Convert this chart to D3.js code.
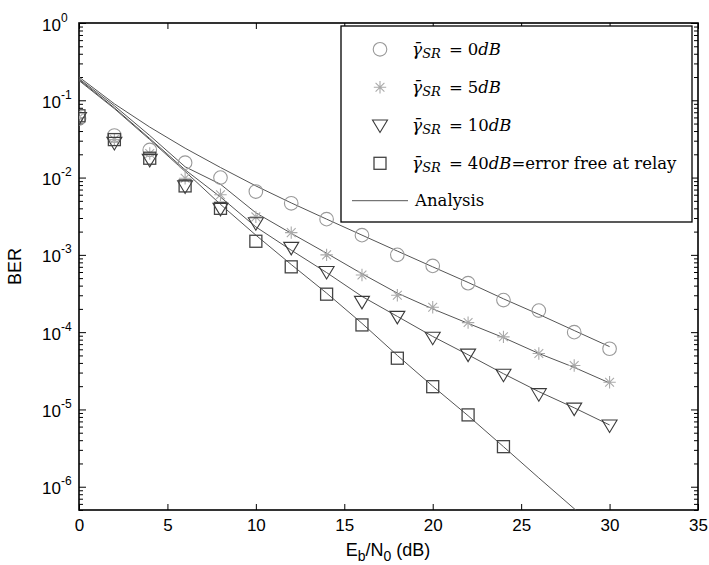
<!DOCTYPE html>
<html><head><meta charset="utf-8">
<script src="https://cdn.jsdelivr.net/npm/d3@7"></script>
<style>body{margin:0;background:#fff}svg{display:block}</style>
</head><body>
<svg id="c" width="709" height="565"></svg>
<script>
// ---- data ----
const snrSim = [0,2,4,6,8,10,12,14,16,18,20,22,24,26,28,30];
const ber0dB  = [0.058,0.035,0.0228,0.0156,0.0100,0.0066,0.00465,0.0029,0.0018,0.00100,0.00072,0.00043,0.00026,0.00019,0.000100,0.000061];
const ber5dB  = [0.060,0.031,0.0205,0.0098,0.0060,0.0031,0.00194,0.00100,0.00055,0.00030,0.00021,0.000133,0.000087,0.000053,0.000037,0.0000225];
const ber10dB = [0.060,0.0285,0.0172,0.0078,0.0040,0.0026,0.00125,0.00061,0.00025,0.000160,0.000086,0.000052,0.0000285,0.000016,0.0000104,0.0000063];
const ber40dB = [0.063,0.031,0.0178,0.0078,0.0040,0.00150,0.00070,0.00031,0.000124,0.000046,0.0000197,0.0000085,0.0000033];
const snrAna = [0,2,4,6,8,10,12,14,16,18,20,22,24,26,28,30];
const ana0dB  = [0.20,0.090,0.045,0.024,0.0135,0.0078,0.0047,0.0029,0.0018,0.00112,0.00070,0.00044,0.00027,0.00017,0.000105,0.000065];
const ana5dB  = [0.19,0.085,0.035,0.0138,0.0082,0.0035,0.0019,0.00105,0.00057,0.00032,0.00020,0.00013,0.000085,0.000053,0.000035,0.000022];
const ana10dB = [0.185,0.080,0.032,0.0126,0.0056,0.0023,0.00115,0.00059,0.00029,0.00016,0.000088,0.000051,0.000029,0.000017,0.0000105,0.0000063];
const ana40dB = [0.18,0.078,0.031,0.012,0.0045,0.0018,0.00075,0.00032,0.00013,0.000050,0.000020,0.0000083,0.0000033,0.0000013,0.00000052,0.00000021];
const xTicks = [0,5,10,15,20,25,30,35];
const yTicks = [1,1e-1,1e-2,1e-3,1e-4,1e-5,1e-6];
const yExps  = ["0","-1","-2","-3","-4","-5","-6"];
const legendLabels = ["0","5","10","40"];

// ---- layout ----
const L=79,R=698,T=23,B=510;
const x = d3.scaleLinear().domain([0,35]).range([L,R]);
const y = d3.scaleLog().domain([5e-7,1]).range([B,T]);
const svg = d3.select("#c");
const sans = "'Liberation Sans', Arial, Helvetica, sans-serif";
const serif = "'DejaVu Serif', serif";

svg.append("defs").append("clipPath").attr("id","clip")
  .append("rect").attr("x",L).attr("y",T).attr("width",R-L).attr("height",B-T);

// minor y ticks
const minor = [];
for (let e=-7;e<0;e++) for (let m=2;m<=9;m++){const v=m*Math.pow(10,e); if(v>=5e-7 && v<1) minor.push(v);}

function styleAxis(g){ g.selectAll("path.domain").remove(); g.selectAll(".tick line").attr("stroke","#000").attr("stroke-width",1); }

// bottom
svg.append("g").attr("transform",`translate(0,${B})`)
  .call(d3.axisBottom(x).tickValues(xTicks).tickSizeInner(-6).tickSizeOuter(0).tickPadding(9))
  .call(styleAxis)
  .call(g=>g.selectAll(".tick text").attr("font-family",sans).attr("font-size",17).attr("fill","#000"));
// top
svg.append("g").attr("transform",`translate(0,${T})`)
  .call(d3.axisTop(x).tickValues(xTicks).tickSizeInner(-6).tickSizeOuter(0).tickFormat(""))
  .call(styleAxis);
// left
svg.append("g").attr("transform",`translate(${L},0)`)
  .call(d3.axisLeft(y).tickValues(yTicks).tickSizeInner(-7).tickSizeOuter(0).tickFormat(""))
  .call(styleAxis);
svg.append("g").attr("transform",`translate(${L},0)`)
  .call(d3.axisLeft(y).tickValues(minor).tickSizeInner(-4).tickSizeOuter(0).tickFormat(""))
  .call(styleAxis);
// right
svg.append("g").attr("transform",`translate(${R},0)`)
  .call(d3.axisRight(y).tickValues(yTicks).tickSizeInner(-7).tickSizeOuter(0).tickFormat(""))
  .call(styleAxis);
svg.append("g").attr("transform",`translate(${R},0)`)
  .call(d3.axisRight(y).tickValues(minor).tickSizeInner(-4).tickSizeOuter(0).tickFormat(""))
  .call(styleAxis);

// y tick labels with superscripts
yTicks.forEach((v,i)=>{
  const t = svg.append("text").attr("x",42).attr("y",y(v)+7.5)
    .attr("font-family",sans).attr("font-size",17).attr("fill","#000");
  t.append("tspan").text("10");
  t.append("tspan").attr("dy",-9).attr("font-size",12).text(yExps[i]);
});

// box
svg.append("rect").attr("x",L).attr("y",T).attr("width",R-L).attr("height",B-T)
  .attr("fill","none").attr("stroke","#000").attr("stroke-width",1.6);

// axis titles
const xt = svg.append("text").attr("x",388).attr("y",556).attr("text-anchor","middle")
  .attr("font-family",sans).attr("font-size",18).attr("fill","#000");
xt.append("tspan").text("E");
xt.append("tspan").attr("dy",5).attr("font-size",14).text("b");
xt.append("tspan").attr("dy",-5).text("/N");
xt.append("tspan").attr("dy",5).attr("font-size",14).text("0");
xt.append("tspan").attr("dy",-5).text(" (dB)");
svg.append("text").attr("transform",`translate(21,${(T+B)/2}) rotate(-90)`).attr("text-anchor","middle")
  .attr("font-family",sans).attr("font-size",18).attr("fill","#000").text("BER");

// analysis lines
const plot = svg.append("g").attr("clip-path","url(#clip)");
const line = d3.line().x(d=>x(d[0])).y(d=>y(d[1]));
[ana0dB,ana5dB,ana10dB,ana40dB].forEach(a=>{
  plot.append("path").attr("d",line(snrAna.map((s,i)=>[s,a[i]])))
    .attr("fill","none").attr("stroke","#555").attr("stroke-width",1);
});

// markers
function drawMarker(g,type,cx,cy){
  if(type==="circle") g.append("circle").attr("cx",cx).attr("cy",cy).attr("r",6.8).attr("fill","none").attr("stroke","#999").attr("stroke-width",1.1);
  else if(type==="star"){
    const r=6.2, d=4.4;
    g.append("path").attr("d",`M${cx-r},${cy}L${cx+r},${cy}M${cx},${cy-r}L${cx},${cy+r}M${cx-d},${cy-d}L${cx+d},${cy+d}M${cx-d},${cy+d}L${cx+d},${cy-d}`)
      .attr("stroke","#aaa").attr("stroke-width",1.1).attr("fill","none");
  } else if(type==="tri"){
    g.append("path").attr("d",`M${cx-7.5},${cy-5}L${cx+7.5},${cy-5}L${cx},${cy+7.5}Z`).attr("fill","none").attr("stroke","#3a3a3a").attr("stroke-width",1.1);
  } else {
    g.append("rect").attr("x",cx-6).attr("y",cy-6).attr("width",12).attr("height",12).attr("fill","none").attr("stroke","#444").attr("stroke-width",1.3);
  }
}
const mg = plot.append("g");
const sets = [["circle",ber0dB],["star",ber5dB],["tri",ber10dB],["square",ber40dB]];
sets.forEach(([t,arr])=>arr.forEach((v,i)=>drawMarker(mg,t,x(snrSim[i]),y(v))));

// legend
const lg = svg.append("g");
lg.append("rect").attr("x",341).attr("y",26).attr("width",351).attr("height",196)
  .attr("fill","#fff").attr("stroke","#000").attr("stroke-width",1.3);
const rows=[49.3,87.3,125,163.3];
sets.forEach(([t],i)=>{
  drawMarker(lg,t,380,rows[i]);
  const tx = lg.append("text").attr("x",412).attr("y",rows[i]+5.5)
    .attr("font-family",serif).attr("font-size",16.5).attr("fill","#000");
  tx.append("tspan").attr("font-style","italic").attr("font-size",17).text("γ\u0304");
  tx.append("tspan").attr("font-style","italic").attr("font-size",13).attr("dy",3.5).text("SR");
  tx.append("tspan").attr("dy",-3.5).attr("dx",8).text("=");
  tx.append("tspan").attr("dx",5).text(legendLabels[i]);
  tx.append("tspan").attr("font-style","italic").text("dB");
  if(i===3) tx.append("tspan").text("=error free at relay");
});
lg.append("line").attr("x1",352).attr("x2",408).attr("y1",200.7).attr("y2",200.7).attr("stroke","#555").attr("stroke-width",1);
lg.append("text").attr("x",415).attr("y",206).attr("font-family",serif).attr("font-size",16.5).attr("fill","#000").text("Analysis");
</script>
</body></html>
